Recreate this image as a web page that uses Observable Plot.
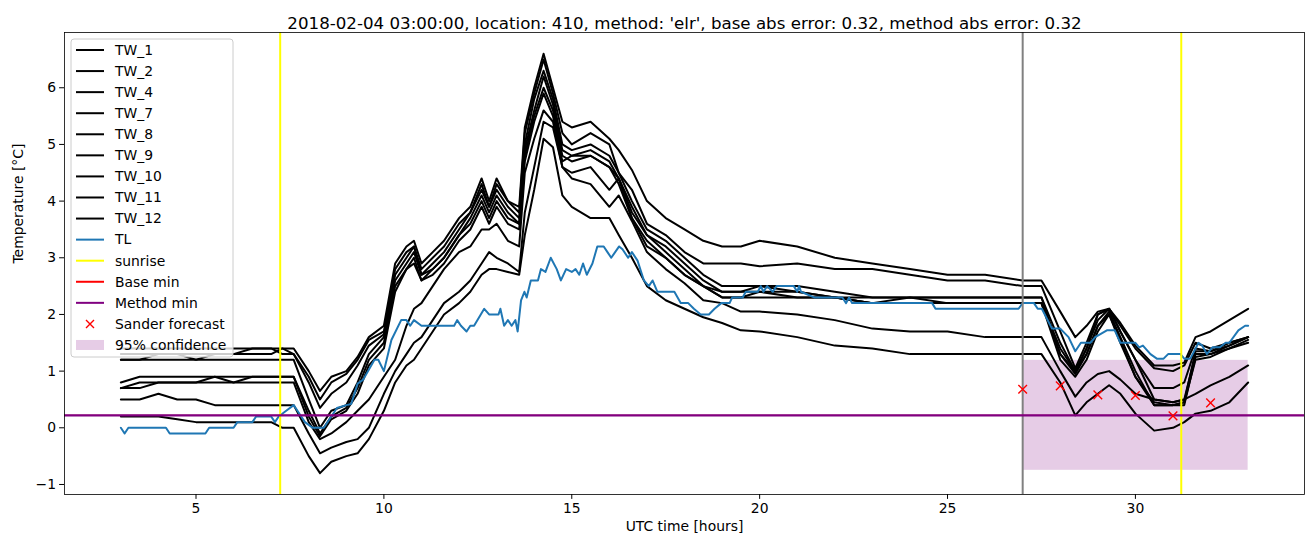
<!DOCTYPE html>
<html><head><meta charset="utf-8">
<script src="https://cdn.jsdelivr.net/npm/d3@7"></script>
<script src="https://cdn.jsdelivr.net/npm/@observablehq/plot@0.6"></script>
<style>
body{margin:0;background:#fff;}
#chart svg{display:block;}
</style></head><body><div id="chart"></div>
<script>
// ---------- data ----------
const titleText = "2018-02-04 03:00:00, location: 410, method: 'elr', base abs error: 0.32, method abs error: 0.32";
const xLabel = "UTC time [hours]";
const yLabel = "Temperature [°C]";
const xTicks = [5, 10, 15, 20, 25, 30];
const yTicks = [-1, 0, 1, 2, 3, 4, 5, 6];

const hours = [3.0,3.5,4.0,4.5,5.0,5.5,6.0,6.5,7.0,7.3,
 7.6,8.0,8.3,8.6,9.0,9.3,9.6,10.0,10.3,10.6,
 10.8,11.0,11.3,11.6,12.0,12.3,12.6,12.8,13.0,13.3,
 13.6,13.75,14.0,14.25,14.5,14.75,15.0,15.5,16.0,16.25,
 16.6,17.0,17.5,18.0,18.5,19.0,19.5,20.0,21.0,22.0,
 23.0,24.0,25.0,26.0,27.0,27.5,28.0,28.4,28.7,29.0,
 29.3,29.6,30.0,30.5,31.0,31.3,31.6,32.0,32.5,33.0];

const TW_1 = [1.4,1.4,1.4,1.4,1.4,1.4,1.4,1.4,1.4,1.4,
 1.4,1.0,0.65,0.9,1.0,1.25,1.6,1.8,2.9,3.2,
 3.3,2.9,3.1,3.3,3.7,3.9,4.4,4.0,4.4,4.0,
 3.9,5.3,6.0,6.6,6.0,5.4,5.3,5.4,5.1,4.9,
 4.55,4.0,3.7,3.5,3.3,3.2,3.2,3.3,3.2,3.0,
 2.9,2.8,2.7,2.7,2.6,2.6,2.05,1.6,1.8,2.05,
 2.1,1.85,1.45,1.1,1.1,1.15,1.6,1.7,1.9,2.1];
const TW_2 = [1.3,1.3,1.3,1.3,1.3,1.3,1.3,1.4,1.4,1.3,
 1.3,0.9,0.5,0.8,0.95,1.2,1.55,1.7,2.8,3.1,
 3.2,2.8,3.0,3.2,3.6,3.8,4.3,3.9,4.3,4.0,
 3.8,5.2,5.9,6.5,5.9,5.2,5.0,5.2,5.0,4.5,
 4.2,3.6,3.4,3.1,2.9,2.9,2.9,2.85,2.9,2.8,
 2.8,2.7,2.6,2.6,2.5,2.5,1.7,1.05,1.5,2.0,
 2.1,1.8,1.4,1.05,1.0,1.1,1.5,1.4,1.5,1.6];
const TW_4 = [1.2,1.2,1.3,1.3,1.2,1.3,1.3,1.3,1.3,1.4,
 1.3,0.8,0.35,0.6,0.8,1.1,1.45,1.65,2.7,3.0,
 3.2,2.7,2.9,3.1,3.5,3.8,4.2,3.9,4.2,3.9,
 3.7,5.0,5.8,6.3,5.8,5.0,4.9,5.0,4.8,4.5,
 4.0,3.5,3.3,3.0,2.7,2.5,2.5,2.5,2.5,2.4,
 2.3,2.3,2.3,2.3,2.3,2.3,1.5,1.0,1.4,2.0,
 2.1,1.7,1.2,0.7,0.7,0.8,1.4,1.35,1.45,1.6];
const TW_7 = [1.2,1.2,1.2,1.2,1.2,1.2,1.2,1.2,1.2,1.2,
 1.2,0.5,0.0,0.3,0.4,0.8,1.3,1.6,2.6,2.9,
 3.1,2.7,2.8,3.0,3.4,3.7,4.1,3.8,4.1,3.8,
 3.6,4.9,5.6,6.2,5.7,4.9,4.8,4.9,4.7,4.4,
 3.9,3.4,3.2,2.9,2.6,2.4,2.4,2.5,2.4,2.3,
 2.2,2.3,2.2,2.2,2.2,2.2,1.4,1.0,1.4,1.9,
 2.1,1.7,1.2,0.5,0.45,0.5,1.3,1.3,1.4,1.55];
const TW_8 = [0.8,0.9,0.9,0.9,0.9,0.9,0.9,0.9,0.9,0.9,
 0.9,0.3,-0.1,0.2,0.35,0.7,1.2,1.5,2.5,2.8,
 3.0,2.6,2.8,3.0,3.4,3.6,4.0,3.7,4.0,3.7,
 3.6,4.8,5.5,6.0,5.6,4.8,4.7,4.8,4.6,4.4,
 3.8,3.4,3.1,2.8,2.5,2.4,2.4,2.4,2.4,2.3,
 2.2,2.2,2.2,2.2,2.2,2.2,1.3,0.95,1.3,1.8,
 2.05,1.6,1.0,0.4,0.4,0.45,1.2,1.25,1.4,1.5];
const TW_9 = [0.7,0.8,0.8,0.8,0.8,0.9,0.8,0.9,0.9,0.9,
 0.9,0.2,-0.15,0.15,0.3,0.6,1.1,1.4,2.4,2.8,
 2.9,2.6,2.7,2.9,3.3,3.5,3.9,3.6,3.9,3.6,
 3.5,4.7,5.4,5.9,5.5,4.7,4.8,4.8,4.6,4.3,
 3.7,3.3,3.0,2.7,2.5,2.3,2.3,2.4,2.3,2.3,
 2.2,2.2,2.2,2.2,2.2,2.2,1.2,0.9,1.2,1.7,
 2.0,1.5,0.9,0.4,0.4,0.4,1.25,1.3,1.45,1.6];
const TW_10 = [0.7,0.7,0.8,0.8,0.8,0.8,0.8,0.8,0.8,0.8,
 0.8,0.1,-0.2,-0.1,0.1,0.3,0.5,0.9,1.2,1.8,
 2.1,2.2,2.5,2.8,3.1,3.2,3.5,3.5,3.6,3.3,
 3.2,4.5,5.1,5.6,5.4,4.6,4.5,4.6,4.2,4.4,
 3.7,3.2,3.0,2.7,2.5,2.3,2.3,2.3,2.3,2.3,
 2.3,2.3,2.3,2.3,2.3,2.3,1.3,1.0,1.3,1.8,
 2.0,1.55,0.9,0.45,0.4,0.45,1.35,1.35,1.5,1.6];
const TW_11 = [0.5,0.5,0.6,0.5,0.5,0.4,0.4,0.4,0.4,0.4,
 0.4,-0.1,-0.45,-0.35,-0.25,-0.2,0.0,0.6,1.0,1.3,
 1.5,1.6,1.9,2.2,2.4,2.6,2.9,3.1,3.0,2.9,
 2.75,3.8,4.6,5.4,5.3,4.6,4.4,4.3,3.9,4.1,
 3.65,3.1,2.8,2.55,2.25,2.2,2.05,2.05,2.0,1.9,
 1.75,1.7,1.7,1.6,1.6,1.6,1.0,0.55,0.8,0.95,
 1.0,0.85,0.6,0.5,0.45,0.5,0.6,0.75,0.9,1.1];
const TW_12 = [0.2,0.2,0.2,0.15,0.1,0.1,0.1,0.1,0.1,0.0,
 0.0,-0.5,-0.8,-0.6,-0.5,-0.45,-0.2,0.3,0.8,1.1,
 1.2,1.4,1.7,2.0,2.2,2.4,2.7,2.8,2.8,2.75,
 2.7,3.4,4.2,5.1,4.95,4.1,3.9,3.7,3.7,3.4,
 3.0,2.5,2.25,2.1,1.95,1.85,1.72,1.7,1.6,1.45,
 1.4,1.3,1.3,1.3,1.3,1.3,0.8,0.22,0.45,0.6,
 0.75,0.6,0.25,-0.05,0.0,0.1,0.25,0.3,0.45,0.8];

const tlHours = [3.0,3.1,3.2,4.2,4.3,5.25,5.35,6.0,6.1,6.5,6.6,7.0,7.1,7.2,7.4,7.6,7.7,7.8,7.9,8.1,
 8.4,8.6,8.75,9.0,9.13,9.3,9.45,9.75,9.85,10.0,10.2,10.46,10.6,10.7,10.8,11.0,11.87,11.95,12.05,12.2,
 12.3,12.4,12.67,12.8,13.05,13.1,13.2,13.3,13.4,13.5,13.56,13.65,13.74,13.8,13.91,14.1,14.18,14.3,14.44,14.6,
 14.71,14.85,15.0,15.1,15.2,15.3,15.4,15.55,15.68,15.85,15.95,16.05,16.26,16.35,16.5,16.6,16.75,16.92,17.05,17.15,
 17.28,17.73,17.9,18.1,18.25,18.43,18.65,18.8,18.98,19.2,19.27,19.55,19.63,19.95,20.03,20.1,20.2,20.35,20.45,20.91,
 21.0,21.05,21.1,21.45,22.2,22.3,22.38,22.46,24.59,24.68,26.89,27.0,27.3,27.4,27.51,27.78,28.0,28.22,28.4,28.55,
 28.8,28.93,29.24,29.45,29.6,30.0,30.1,30.2,30.4,30.57,30.75,30.87,31.2,31.3,31.46,31.68,31.78,31.9,32.05,32.25,
 32.4,32.5,32.74,32.92,33.0];
const TL = [0.0,-0.1,0.0,0.0,-0.1,-0.1,0.0,0.0,0.1,0.1,0.2,0.2,0.1,0.2,0.3,0.4,0.3,0.2,0.1,0.0,
 0.0,0.2,0.35,0.4,0.42,0.78,0.85,1.2,1.2,1.0,1.55,1.9,1.9,1.8,1.9,1.8,1.8,1.9,1.8,1.7,
 1.8,1.8,2.1,2.0,2.0,2.1,1.8,1.9,1.8,1.9,1.7,2.25,2.4,2.3,2.6,2.6,2.8,2.75,3.0,2.8,
 2.6,2.8,2.75,2.8,2.7,2.9,2.7,2.9,3.2,3.2,3.1,3.0,3.2,3.15,3.0,3.1,2.95,2.6,2.5,2.6,
 2.4,2.4,2.2,2.2,2.1,2.0,2.0,2.1,2.2,2.2,2.3,2.3,2.4,2.4,2.5,2.4,2.5,2.4,2.5,2.5,
 2.4,2.5,2.4,2.3,2.3,2.2,2.3,2.2,2.2,2.1,2.1,2.2,2.2,2.1,2.1,1.75,1.75,1.6,1.35,1.5,
 1.5,1.6,1.72,1.72,1.5,1.5,1.42,1.45,1.3,1.22,1.22,1.3,1.3,1.22,1.22,1.5,1.45,1.3,1.42,1.42,
 1.5,1.5,1.72,1.8,1.8];

const twNames = ["TW_1","TW_2","TW_4","TW_7","TW_8","TW_9","TW_10","TW_11","TW_12"];
const twValues = [TW_1, TW_2, TW_4, TW_7, TW_8, TW_9, TW_10, TW_11, TW_12];

const sunriseHours = [7.24, 31.22];
const forecastStartHour = [27];
const baseMin = [0.22];
const methodMin = [0.22];
const forecastHours = [27, 28, 29, 30, 31, 32];
const forecastValues = [0.68, 0.74, 0.58, 0.57, 0.21, 0.44];
const confidenceHours = [27, 33];
const confidenceBounds = [-0.75, 1.19];

// ---------- tables ----------
const twData = twNames.flatMap((name, i) => hours.map((h, j) => ({series: name, hour: h, value: twValues[i][j]})));
const tlData = tlHours.map((h, j) => ({hour: h, value: TL[j]}));
const forecastData = forecastHours.map((h, j) => ({hour: h, value: forecastValues[j]}));
const confData = [{x1: confidenceHours[0], x2: confidenceHours[1], y1: confidenceBounds[0], y2: confidenceBounds[1]}];

const FONT = "'DejaVu Sans', sans-serif";
const minusFmt = d => (d < 0 ? "\u2212" + Math.abs(d) : String(d));

const plot = Plot.plot({
  width: 1313, height: 547,
  marginTop: 32, marginBottom: 53, marginLeft: 64, marginRight: 9,
  style: {fontFamily: FONT, fontSize: "13.9px", background: "white", color: "black", overflow: "visible"},
  x: {domain: [1.5, 34.5]},
  y: {domain: [-1.177, 6.975]},
  marks: [
    Plot.rect(confData, {x1: "x1", x2: "x2", y1: "y1", y2: "y2", fill: "purple", fillOpacity: 0.2}),
    Plot.line(twData, {x: "hour", y: "value", z: "series", stroke: "black", strokeWidth: 2, strokeLinejoin: "round"}),
    Plot.line(tlData, {x: "hour", y: "value", stroke: "#1f77b4", strokeWidth: 2}),
    Plot.ruleX(sunriseHours, {stroke: "yellow", strokeWidth: 2}),
    Plot.ruleX(forecastStartHour, {stroke: "grey", strokeWidth: 2}),
    Plot.ruleY(baseMin, {stroke: "red", strokeWidth: 1}),
    Plot.ruleY(methodMin, {stroke: "purple", strokeWidth: 2.2}),
    Plot.dot(forecastData, {x: "hour", y: "value", symbol: "times", r: 4, stroke: "red", strokeWidth: 1.4}),
    Plot.frame({stroke: "black", strokeWidth: 0.8}),
    Plot.axisX({ticks: xTicks, tickSize: 4.9, tickPadding: 3.5, label: null, tickFormat: minusFmt, fontSize: 13.9}),
    Plot.axisY({ticks: yTicks, tickSize: 4.9, tickPadding: 3.5, label: null, tickFormat: minusFmt, fontSize: 13.9}),
    Plot.text([titleText], {frameAnchor: "top", dy: -15, fontSize: 16.67, fill: "black"}),
    Plot.text([xLabel], {frameAnchor: "bottom", dy: 36, fontSize: 13.9, fill: "black"}),
    Plot.text([yLabel], {frameAnchor: "left", dx: -46, rotate: -90, fontSize: 13.9, fill: "black"})
  ]
});
document.getElementById("chart").appendChild(plot);

// ---------- legend ----------
const legendItems = [
  ...twNames.map(n => ({label: n, kind: "line", color: "black"})),
  {label: "TL", kind: "line", color: "#1f77b4"},
  {label: "sunrise", kind: "line", color: "yellow"},
  {label: "Base min", kind: "line", color: "red"},
  {label: "Method min", kind: "line", color: "purple"},
  {label: "Sander forecast", kind: "x", color: "red"},
  {label: "95% confidence", kind: "rect", color: "purple"}
];
const svg = d3.select(plot);
const lg = svg.append("g").attr("font-family", FONT).attr("font-size", 13.9).attr("text-anchor", "start");
lg.append("rect").attr("x", 71).attr("y", 39).attr("width", 162).attr("height", 318)
  .attr("rx", 3).attr("fill", "white").attr("fill-opacity", 0.8).attr("stroke", "#cccccc").attr("stroke-width", 1);
legendItems.forEach((it, i) => {
  const cy = 50 + i * 21.07;
  if (it.kind === "line") {
    lg.append("line").attr("x1", 76).attr("x2", 104).attr("y1", cy).attr("y2", cy)
      .attr("stroke", it.color).attr("stroke-width", 2);
  } else if (it.kind === "x") {
    const s = 4;
    lg.append("path").attr("d", `M${90 - s},${cy - s}L${90 + s},${cy + s}M${90 - s},${cy + s}L${90 + s},${cy - s}`)
      .attr("stroke", it.color).attr("stroke-width", 1.4);
  } else {
    lg.append("rect").attr("x", 76).attr("y", cy - 5).attr("width", 28).attr("height", 10)
      .attr("fill", it.color).attr("fill-opacity", 0.2);
  }
  lg.append("text").attr("x", 115).attr("y", cy).attr("dy", "0.35em").attr("text-anchor", "start")
    .attr("fill", "black").text(it.label);
});
</script></body></html>
